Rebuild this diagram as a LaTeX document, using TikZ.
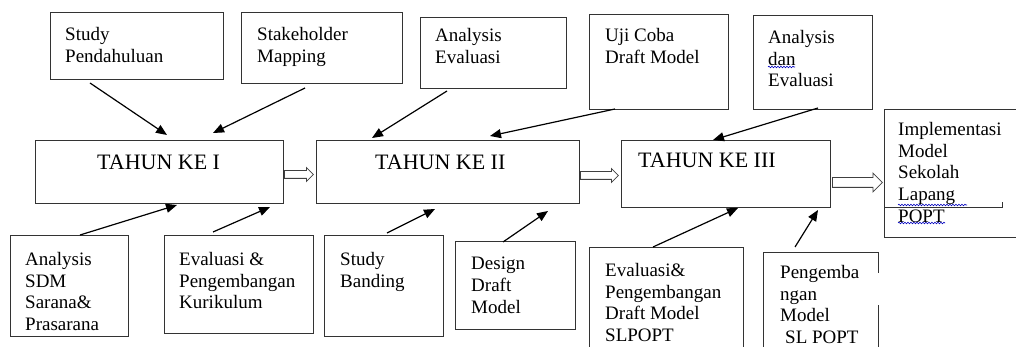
\documentclass[tikz,border=0pt]{standalone}
\usepackage{fontspec}
\setmainfont{Liberation Serif}
\usetikzlibrary{arrows.meta, shapes.arrows, decorations.pathmorphing}

\begin{document}
\begin{tikzpicture}[
        x=1pt, y=-1pt,
        box/.style={rectangle, draw=black!80, line width=1pt, anchor=north west, inner sep=0pt},
        txt/.style={anchor=north west, align=left, inner sep=0pt, font=\fontsize{19}{21.7}\selectfont},
        yeartxt/.style={anchor=north west, inner sep=0pt, font=\fontsize{22}{26}\selectfont},
        arrow/.style={-{Triangle[length=11pt, width=9pt]}, line width=1.2pt},
        hollow/.style={single arrow, draw=black!75, line width=0.8pt, anchor=tail, inner xsep=0pt, inner ysep=3.5pt, single arrow head extend=3pt},
        wavy/.style={blue!75!black, line width=0.6pt, decorate, decoration={snake, amplitude=0.8pt, segment length=3pt}}
    ]
        \useasboundingbox (0,0) rectangle (1016,347);

        % top row
        \node[box, minimum width=173pt, minimum height=67pt] (sp) at (50,12) {};
        \node[box, minimum width=161pt, minimum height=71pt] (sm) at (241,12) {};
        \node[box, minimum width=146pt, minimum height=71pt] (ae) at (420,17) {};
        \node[box, minimum width=139pt, minimum height=95pt] (uc) at (589,14) {};
        \node[box, minimum width=119pt, minimum height=94pt] (ade) at (753,15) {};
        \node[txt] at ([shift={(15,15)}]sp.north west) {Study\\Pendahuluan};
        \node[txt] at ([shift={(16,15)}]sm.north west) {Stakeholder\\Mapping};
        \node[txt] at ([shift={(15,11)}]ae.north west) {Analysis\\Evaluasi};
        \node[txt] at ([shift={(16,14)}]uc.north west) {Uji Coba\\Draft Model};
        \node[txt] (adet) at ([shift={(15,15)}]ade.north west) {Analysis\\dan\\Evaluasi};
        \draw[wavy] ([shift={(0,37)}]adet.north west) -- ++(27,0);

        % years
        \node[box, minimum width=248pt, minimum height=63pt] (y1) at (35,140) {};
        \node[box, minimum width=263pt, minimum height=63pt] (y2) at (316,140) {};
        \node[box, minimum width=209pt, minimum height=67pt] (y3) at (621,140) {};
        \node[box, minimum width=150pt, minimum height=128pt] (imp) at (884,109) {};
        \node[yeartxt] at ([shift={(62,15)}]y1.north west) {TAHUN KE I};
        \node[yeartxt] at ([shift={(59,15)}]y2.north west) {TAHUN KE II};
        \node[yeartxt] at ([shift={(17,13)}]y3.north west) {TAHUN KE III};
        \node[txt] (impt) at ([shift={(14,13)}]imp.north west) {Implementasi\\Model\\Sekolah\\Lapang\\POPT};
        \draw[wavy] ([shift={(0,83)}]impt.north west) -- ++(69,0);
        \draw[wavy] ([shift={(0,101)}]impt.north west) -- ++(47,0);
        \draw[black!80, line width=1pt] ([shift={(0,99)}]imp.north west) -- ++(118,0) -- ++(0,-6);

        \node[hollow, minimum height=29pt] (a1) at (284,174.5) {};
        \node[hollow, minimum height=38pt] (a2) at (580,175.5) {};
        \node[hollow, minimum height=50pt, inner ysep=4.5pt, single arrow head extend=4.5pt] (a3) at (832,182.5) {};

        % bottom row
        \node[box, minimum width=118pt, minimum height=101pt] (sdm) at (10,235) {};
        \node[box, minimum width=149pt, minimum height=98pt] (kur) at (164,235) {};
        \node[box, minimum width=119pt, minimum height=101pt] (sb) at (324,235) {};
        \node[box, minimum width=120pt, minimum height=88pt] (ddm) at (455,241) {};
        \node[box, minimum width=154pt, minimum height=110pt] (edm) at (589,247) {};
        \node[box, minimum width=115pt, minimum height=105pt] (pm) at (763,252) {};
        \draw[white, line width=2pt] ([shift={(0,21)}]pm.north east) -- ([shift={(0,53)}]pm.north east);
        \node[txt] at ([shift={(15,17)}]sdm.north west) {Analysis\\SDM\\Sarana\&\\Prasarana};
        \node[txt] at ([shift={(15,17)}]kur.north west) {Evaluasi \&\\Pengembangan\\Kurikulum};
        \node[txt] at ([shift={(16,17)}]sb.north west) {Study\\Banding};
        \node[txt] at ([shift={(16,16)}]ddm.north west) {Design\\Draft\\Model};
        \node[txt] at ([shift={(16,16)}]edm.north west) {Evaluasi\&\\Pengembangan\\Draft Model\\SLPOPT};
        \node[txt] at ([shift={(17,13)}]pm.north west) {Pengemba\\ngan\\Model\\\hspace{5pt}SL POPT};

        % inputs into each year
        \draw[arrow] ([shift={(40,3)}]sp.south west) -- ([shift={(132,-5)}]y1.north west);
        \draw[arrow] ([shift={(64,4)}]sm.south west) -- ([shift={(178,-7)}]y1.north west);
        \draw[arrow] ([shift={(27,2)}]ae.south west) -- ([shift={(56,-2)}]y2.north west);
        \draw[arrow] ([shift={(26,-1)}]uc.south west) -- ([shift={(174,-4)}]y2.north west);
        \draw[arrow] ([shift={(65,-2)}]ade.south west) -- ([shift={(92,0)}]y3.north west);
        \draw[arrow] ([shift={(70,0)}]sdm.north west) -- ([shift={(142,1)}]y1.south west);
        \draw[arrow] ([shift={(49,-3)}]kur.north west) -- ([shift={(235,3)}]y1.south west);
        \draw[arrow] ([shift={(63,-2)}]sb.north west) -- ([shift={(119,5)}]y2.south west);
        \draw[arrow] ([shift={(48,1)}]ddm.north west) -- ([shift={(232,7)}]y2.south west);
        \draw[arrow] ([shift={(64,0)}]edm.north west) -- ([shift={(117,0)}]y3.south west);
        \draw[arrow] ([shift={(32,-5)}]pm.north west) -- ([shift={(197,2)}]y3.south west);
    \end{tikzpicture}
\end{document}
